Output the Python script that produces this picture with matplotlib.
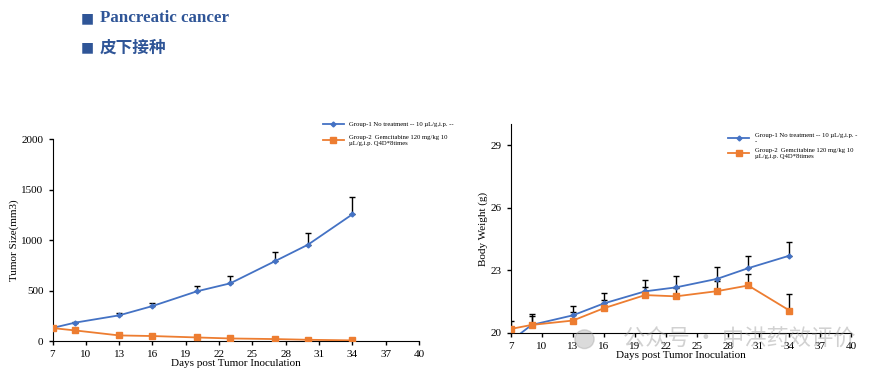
import numpy as np
import matplotlib.pyplot as plt
from matplotlib.patches import Ellipse

plt.rcParams['font.family'] = ['Liberation Serif', 'Noto Sans CJK SC']

days = [7, 9, 13, 16, 20, 23, 27, 30, 34]

# tumor volume (mm3)
tumor_g1 = [130, 182, 255, 347, 493, 572, 790, 955, 1256]
tumor_g1_err = [5, 10, 20, 30, 50, 70, 95, 120, 175]
tumor_g2 = [129, 106, 56, 50, 36, 26, 20, 13, 7]
tumor_g2_err = [5, 5, 5, 5, 5, 4, 4, 3, 3]

# body weight (g)
bw_g1 = [19.62, 20.38, 20.84, 21.41, 21.99, 22.18, 22.59, 23.10, 23.70]
bw_g1_err = [0.3, 0.5, 0.43, 0.48, 0.54, 0.54, 0.56, 0.60, 0.64]
bw_g2 = [20.19, 20.38, 20.59, 21.18, 21.81, 21.75, 22.00, 22.27, 21.07]
bw_g2_err = [0.4, 0.45, 0.4, 0.4, 0.4, 0.4, 0.5, 0.54, 0.79]

label1 = 'Group-1 No treatment -- 10 µL/g,i.p. --'
label1b = 'Group-1 No treatment -- 10 µL/g,i.p. -\n-'
label2 = 'Group-2  Gemcitabine 120 mg/kg 10\nµL/g,i.p. Q4D*8times'

blue = '#4472C4'
orange = '#ED7D31'

fig = plt.figure(figsize=(8.75, 3.74), dpi=100)

# header
hdr = '#2F5597'
fig.text(0.092, 0.952, '■', color=hdr, fontsize=10, va='center', family=['DejaVu Sans'])
fig.text(0.114, 0.952, 'Pancreatic cancer', color=hdr, fontsize=12.2,
         fontweight='bold', va='center')
fig.text(0.092, 0.873, '■', color=hdr, fontsize=10, va='center', family=['DejaVu Sans'])
fig.text(0.114, 0.873, '皮下接种', color=hdr, fontsize=12, fontweight='bold',
         va='center', family=['Noto Sans CJK SC'])


def style(ax):
    ax.spines['top'].set_visible(False)
    ax.spines['right'].set_visible(False)
    ax.tick_params(labelsize=8, length=3, width=1)
    ax.set_xlim(7, 40)
    ax.set_xticks(range(7, 41, 3))
    ax.set_xlabel('Days post Tumor Inoculation', fontsize=8, labelpad=0)


def draw(ax, y, err, color, marker, ms, label):
    ax.errorbar(days, y, yerr=[np.zeros(len(err)), err], fmt='none',
                ecolor='black', elinewidth=1, capsize=2, capthick=1, zorder=2)
    ax.plot(days, y, color=color, marker=marker, ms=ms, lw=1.3,
            label=label, zorder=3)


# tumor size
ax1 = fig.add_axes([0.06, 0.088, 0.419, 0.54])
draw(ax1, tumor_g1, tumor_g1_err, blue, 'D', 2.5, label1)
draw(ax1, tumor_g2, tumor_g2_err, orange, 's', 4.5, label2)
style(ax1)
ax1.set_ylim(0, 2000)
ax1.set_yticks(range(0, 2001, 500))
ax1.set_ylabel('Tumor Size(mm3)', fontsize=8, labelpad=2)
ax1.legend(loc='upper left', bbox_to_anchor=(0.73, 1.1), fontsize=4.8,
           frameon=False, handlelength=3.2, labelspacing=1.2, borderaxespad=0)

# body weight
ax2 = fig.add_axes([0.584, 0.11, 0.389, 0.558])
draw(ax2, bw_g1, bw_g1_err, blue, 'D', 2.5, label1b)
draw(ax2, bw_g2, bw_g2_err, orange, 's', 4.5, label2)
style(ax2)
ax2.set_ylim(20, 30)
ax2.set_yticks([20, 23, 26, 29])
ax2.set_ylabel('Body Weight (g)', fontsize=8, labelpad=2)
ax2.legend(loc='upper left', bbox_to_anchor=(0.63, 0.97), fontsize=4.8,
           frameon=False, handlelength=3.2, labelspacing=0.6, borderaxespad=0)

# watermark
fig.patches.append(Ellipse((0.668, 0.093), 0.022, 0.05, transform=fig.transFigure,
                           color='#999999', alpha=0.35, zorder=5))
fig.text(0.845, 0.093, '公众号 · 中洪药效评价', color='#999999', alpha=0.45,
         fontsize=16, ha='center', va='center', family=['Noto Sans CJK SC'])

fig.savefig('out.png', dpi=100)
